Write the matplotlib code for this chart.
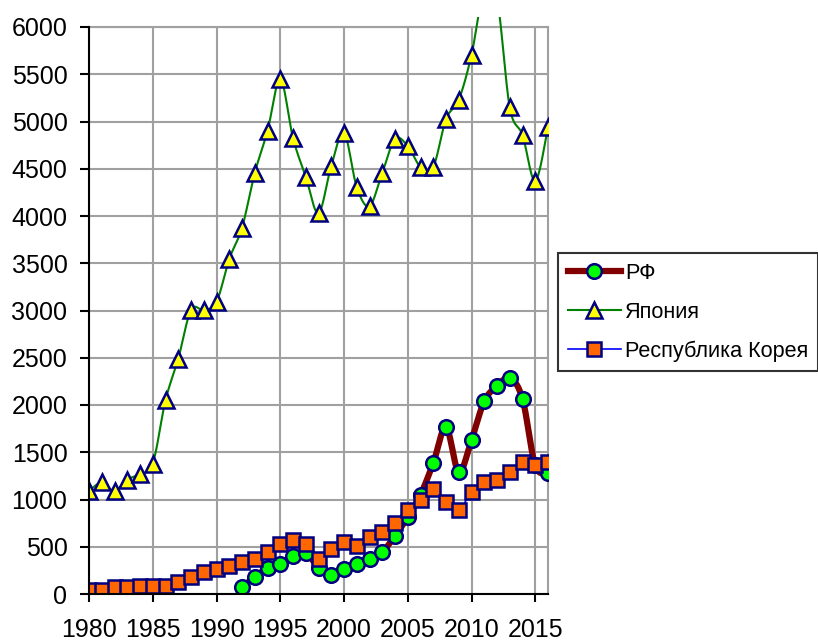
import numpy as np
import matplotlib
matplotlib.use('Agg')
import matplotlib.pyplot as plt
from matplotlib.lines import Line2D
from matplotlib.patches import Rectangle

plt.rcParams['font.family'] = ['Liberation Sans', 'DejaVu Sans']

years = list(range(1980, 2017))
japan = [1090, 1180, 1090, 1210, 1270, 1380, 2050, 2490, 3005, 3005,
         3090, 3545, 3875, 4455, 4900, 5450, 4825, 4415, 4030, 4530,
         4880, 4305, 4105, 4455, 4815, 4740, 4520, 4520, 5025, 5230,
         5705, 6400, 6300, 5150, 4855, 4370, 4940]
korea = [45, 45, 75, 75, 85, 85, 85, 125, 180, 235,
         265, 300, 340, 370, 445, 530, 570, 530, 370, 475,
         550, 510, 600, 655, 750, 890, 995, 1110, 975, 890,
         1080, 1185, 1205, 1290, 1400, 1365, 1400]
rf_years = list(range(1992, 2017))
rf = [75, 180, 275, 315, 400, 435, 280, 200, 265, 315,
      370, 445, 615, 815, 1050, 1385, 1765, 1290, 1630, 2040,
      2200, 2285, 2065, 1360, 1280]

series_names = ['РФ', 'Япония', 'Республика Корея']


def smooth(x, y, n=24):
    # Catmull-Rom in pixel-like units, similar to Excel "smoothed line"
    sx, sy = 12.74, 567 / 6000
    pts = np.column_stack([np.asarray(x) * sx, np.asarray(y) * sy])
    P = np.vstack([pts[0], pts, pts[-1]])
    t = np.linspace(0, 1, n, endpoint=False)[:, None]
    out = []
    for i in range(1, len(P) - 2):
        p0, p1, p2, p3 = P[i - 1], P[i], P[i + 1], P[i + 2]
        seg = 0.5 * (2 * p1 + (-p0 + p2) * t
                     + (2 * p0 - 5 * p1 + 4 * p2 - p3) * t ** 2
                     + (-p0 + 3 * p1 - 3 * p2 + p3) * t ** 3)
        out.append(seg)
    out.append(pts[-1:])
    c = np.vstack(out)
    return c[:, 0] / sx, c[:, 1] / sy


fig = plt.figure(figsize=(8.18, 6.42), dpi=100)
ax = fig.add_axes([89 / 818, 1 - 594 / 642, 459 / 818, 567 / 642])

navy = '#000080'
clip = Rectangle((0, 0), 1, 1.017, transform=ax.transAxes, visible=False)
ax.add_patch(clip)

sx, sy = smooth(rf_years, rf)
ax.plot(sx, sy, color='#800000', lw=4.5, solid_capstyle='round', zorder=3)
ax.plot(rf_years, rf, ls='none', marker='o', ms=10.5, mfc='#00FF00',
        mec=navy, mew=1.8, zorder=4)

sx, sy = smooth(years, japan)
ln, = ax.plot(sx, sy, color='#008000', lw=1.5, zorder=5)
ln.set_clip_path(clip)
ax.plot(years, japan, ls='none', marker='^', ms=11, mfc='#FFFF00',
        mec=navy, mew=1.8, zorder=6)

sx, sy = smooth(years, korea)
ax.plot(sx, sy, color='#0000FF', lw=1.2, zorder=7)
ax.plot(years, korea, ls='none', marker='s', ms=10.5, mfc='#FF6600',
        mec=navy, mew=1.8, zorder=8)

ax.set_xlim(1980, 2016)
ax.set_ylim(0, 6000)
ax.set_xticks(range(1980, 2016, 5))
ax.set_yticks(range(0, 6001, 500))
ax.grid(True, color='#A0A0A0', lw=1.5, zorder=0)
ax.set_axisbelow(True)
for s in ['top', 'right']:
    ax.spines[s].set_color('#A0A0A0')
    ax.spines[s].set_linewidth(1.5)
for s in ['left', 'bottom']:
    ax.spines[s].set_color('black')
    ax.spines[s].set_linewidth(1.5)
    ax.spines[s].set_zorder(9)
ax.tick_params(axis='y', direction='out', length=6.5, width=1.5,
               pad=9, labelsize=18)
ax.tick_params(axis='x', direction='out', length=6, width=1.5,
               pad=11, labelsize=18)

handles = [
    Line2D([], [], color='#800000', lw=4.5, marker='o', ms=10.5,
           mfc='#00FF00', mec=navy, mew=1.8),
    Line2D([], [], color='#008000', lw=1.5, marker='^', ms=11,
           mfc='#FFFF00', mec=navy, mew=1.8),
    Line2D([], [], color='#0000FF', lw=1.2, marker='s', ms=10.5,
           mfc='#FF6600', mec=navy, mew=1.8),
]
leg = fig.legend(handles, series_names, loc='upper left',
                 bbox_to_anchor=(558 / 818, 1 - 253 / 642),
                 fontsize=15.6, frameon=True, fancybox=False,
                 edgecolor='black', handlelength=2.45, handletextpad=0.2,
                 labelspacing=0.82, borderpad=0.45, borderaxespad=0)
leg.get_frame().set_linewidth(1.5)

fig.savefig('out.png', dpi=100)
